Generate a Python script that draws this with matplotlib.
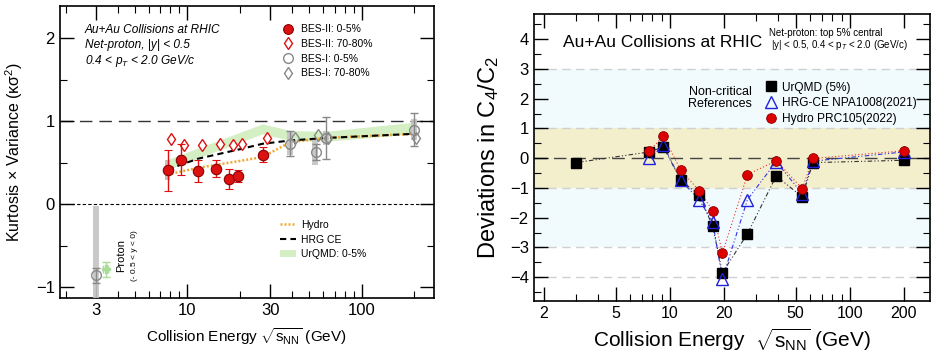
import numpy as np
import matplotlib
matplotlib.use('Agg')
import matplotlib.pyplot as plt
from matplotlib.lines import Line2D
from matplotlib.patches import Patch
from matplotlib.ticker import FixedLocator, NullFormatter

plt.rcParams['font.family'] = ['Liberation Sans', 'DejaVu Sans']
plt.rcParams['mathtext.fontset'] = 'custom'
plt.rcParams['mathtext.rm'] = 'Liberation Sans'
plt.rcParams['mathtext.it'] = 'Liberation Sans:italic'

# ---- left panel data ----
bes2_c_E = [7.7, 9.2, 11.5, 14.6, 17.3, 19.6, 27]
bes2_c_val = [0.41, 0.54, 0.40, 0.43, 0.31, 0.34, 0.60]
bes2_c_err = [0.25, 0.19, 0.13, 0.10, 0.12, 0.07, 0.09]
bes2_c_sys = [0.12, 0.05, 0.06, 0.04, 0.06, 0.03, 0.03]

bes2_p_E = [8.1, 9.6, 12.2, 15.4, 18.4, 20.7, 28.5]
bes2_p_val = [0.79, 0.72, 0.71, 0.73, 0.72, 0.73, 0.80]

bes1_c_E = [3.0, 39, 54.4, 62.4, 200]
bes1_c_val = [-0.855, 0.73, 0.63, 0.80, 0.90]
bes1_c_err = [0.09, 0.15, 0.10, 0.25, 0.20]
bes1_c_sys = [0.83, 0.14, 0.15, 0.08, 0.13]

bes1_p_E = [41.3, 56, 64, 206]
bes1_p_val = [0.80, 0.84, 0.80, 0.80]

urqmd_p_E = [3.4]
urqmd_p_val = [-0.78]
urqmd_p_err = [0.09]

urqmd_band_E = [7.7, 11.5, 19.6, 27, 39, 62.4, 200]
urqmd_band_mid = [0.48, 0.62, 0.80, 0.91, 0.83, 0.82, 0.92]
urqmd_band_w = [0.06, 0.06, 0.06, 0.06, 0.06, 0.06, 0.07]

hrg_E = [7.7, 11.5, 19.6, 27, 39, 62.4, 200]
hrg_val = [0.42, 0.55, 0.66, 0.73, 0.77, 0.80, 0.85]

hydro_E = [7.7, 11.5, 19.6, 27, 39, 62.4, 200]
hydro_val = [0.36, 0.44, 0.52, 0.57, 0.75, 0.80, 0.85]

# ---- right panel data ----
urqmd_E = [3.0, 7.7, 9.2, 11.5, 14.6, 17.3, 19.6, 27, 39, 54.4, 62.4, 200]
urqmd_dev = [-0.15, 0.21, 0.38, -0.74, -1.25, -2.29, -3.85, -2.54, -0.60, -1.30, -0.15, -0.07]

hrgce_E = [7.7, 9.2, 11.5, 14.6, 17.3, 19.6, 27, 39, 54.4, 62.4, 200]
hrgce_dev = [-0.01, 0.44, -0.74, -1.41, -2.14, -4.05, -1.39, -0.12, -1.19, -0.10, 0.21]

hydro2_E = [7.7, 9.2, 11.5, 14.6, 17.3, 19.6, 27, 39, 54.4, 62.4, 200]
hydro2_dev = [0.24, 0.74, -0.40, -1.10, -1.77, -3.19, -0.55, -0.09, -1.02, -0.01, 0.25]

red = '#dd1111'
gray = '#888888'

fig = plt.figure(figsize=(9.33, 3.57), dpi=100)

# ================= left panel =================
ax = fig.add_axes([0.064, 0.165, 0.401, 0.818])
ax.set_xscale('log')
ax.set_xlim(1.85, 260)
ax.set_ylim(-1.13, 2.39)

ax.axhline(1, color='#333333', lw=1.0, dashes=(9, 5), zorder=1)
ax.axhline(0, color='black', lw=0.8, dashes=(3, 2), zorder=1)

# UrQMD band
lo = np.array(urqmd_band_mid) - np.array(urqmd_band_w)
hi = np.array(urqmd_band_mid) + np.array(urqmd_band_w)
ax.fill_between(urqmd_band_E, lo, hi, color='#d4efc4', lw=0, zorder=2)

ax.plot(hydro_E, hydro_val, color='#f0a830', lw=1.8, linestyle=(0, (0.8, 0.8)), zorder=3)
ax.plot(hrg_E, hrg_val, color='black', lw=1.5, linestyle=(0, (3, 2)), zorder=3)

# systematic boxes
E = np.array(bes2_c_E)
ax.bar(E, 2 * np.array(bes2_c_sys), bottom=np.array(bes2_c_val) - np.array(bes2_c_sys),
       width=E * 0.07, color='#c9a8a8', alpha=0.8, zorder=4)
E = np.array(bes1_c_E)
ax.bar(E, 2 * np.array(bes1_c_sys), bottom=np.array(bes1_c_val) - np.array(bes1_c_sys),
       width=E * 0.08, color='#c4c4c4', alpha=0.9, zorder=4)

ax.errorbar(bes1_c_E, bes1_c_val, yerr=bes1_c_err, fmt='o', ms=7, mfc='none',
            mec=gray, ecolor=gray, capsize=3, elinewidth=1, mew=1, zorder=5)
ax.errorbar(urqmd_p_E, urqmd_p_val, yerr=urqmd_p_err, xerr=[0.12], fmt='P', ms=6,
            color='#a8dc98', ecolor='#a8dc98', capsize=3, elinewidth=1, zorder=5)
ax.plot(bes1_p_E, bes1_p_val, 'd', ms=6, mfc='none', mec=gray, mew=1, zorder=5)
ax.plot(bes2_p_E, bes2_p_val, 'd', ms=6.5, mfc='white', mec=red, mew=1, zorder=6)
ax.errorbar(bes2_c_E, bes2_c_val, yerr=bes2_c_err, fmt='o', ms=7.5, mfc=red,
            mec='#880000', ecolor=red, capsize=3, elinewidth=1, mew=0.8, zorder=7)

ax.text(0.067, 0.918, 'Au+Au Collisions at RHIC', transform=ax.transAxes,
        fontsize=8.6, style='italic', va='center')
ax.text(0.067, 0.866, 'Net-proton, |y| < 0.5', transform=ax.transAxes,
        fontsize=8.6, style='italic', va='center')
ax.text(0.067, 0.813, r'0.4 < $p_{T}$ < 2.0 GeV/c', transform=ax.transAxes,
        fontsize=8.6, style='italic', va='center')

ax.text(4.15, -0.62, 'Proton', rotation=90, fontsize=8, ha='center', va='center')
ax.text(5.0, -0.62, '(- 0.5 < y < 0)', rotation=90, fontsize=6, ha='center', va='center')

h1 = [Line2D([], [], marker='o', ls='none', ms=7, mfc=red, mec='#880000', mew=0.8),
      Line2D([], [], marker='d', ls='none', ms=6.5, mfc='white', mec=red, mew=1),
      Line2D([], [], marker='o', ls='none', ms=7, mfc='none', mec=gray, mew=1),
      Line2D([], [], marker='d', ls='none', ms=6, mfc='none', mec=gray, mew=1)]
leg1 = ax.legend(h1, ['BES-II: 0-5%', 'BES-II: 70-80%', 'BES-I: 0-5%', 'BES-I: 70-80%'],
                 loc='upper left', bbox_to_anchor=(0.575, 0.955), frameon=False,
                 fontsize=7.5, handlelength=1.5, handletextpad=0.5, labelspacing=0.45,
                 borderpad=0)
ax.add_artist(leg1)
h2 = [Line2D([], [], color='#f0a830', lw=1.8, ls=(0, (0.8, 0.8))),
      Line2D([], [], color='black', lw=1.5, ls=(0, (3, 2))),
      Patch(facecolor='#d4efc4', edgecolor='none')]
ax.legend(h2, ['Hydro', 'HRG CE', 'UrQMD: 0-5%'], loc='upper left',
          bbox_to_anchor=(0.575, 0.285), frameon=False, fontsize=7.5,
          handlelength=1.5, handletextpad=0.5, labelspacing=0.45, borderpad=0)

ax.xaxis.set_major_locator(FixedLocator([3, 10, 30, 100]))
ax.set_xticklabels(['3', '10', '30', '100'])
minors = [m * 10 ** d for d in range(0, 3) for m in range(2, 10)]
ax.xaxis.set_minor_locator(FixedLocator(minors))
ax.xaxis.set_minor_formatter(NullFormatter())
ax.set_yticks([-1, 0, 1, 2])
ax.set_yticklabels(['\u22121', '0', '1', '2'])
ax.set_yticks([-0.5, 0.5, 1.5], minor=True)
ax.tick_params(which='both', direction='in', top=True, right=True, labelsize=12)
ax.tick_params(which='major', length=10, width=1)
ax.tick_params(which='minor', length=5, width=0.8)
for s in ax.spines.values():
    s.set_linewidth(1.2)
ax.set_xlabel(r'Collision Energy $\sqrt{\mathrm{s_{NN}}}$ (GeV)', fontsize=11, labelpad=6)
ax.set_ylabel('Kurtosis \u00d7 Variance (\u03ba\u03c3$^2$)', fontsize=11.5, labelpad=8)

# ================= right panel =================
ax2 = fig.add_axes([0.572, 0.157, 0.425, 0.804])
ax2.set_xscale('log')
ax2.set_xlim(1.75, 280)
ax2.set_ylim(-4.8, 4.85)

ax2.axhspan(1, 3, color='#f1fafd', lw=0, zorder=0)
ax2.axhspan(-3, -1, color='#f1fafd', lw=0, zorder=0)
ax2.axhspan(-1, 1, color='#f3eecc', lw=0, zorder=0)
for yv in [-4, -3, -1, 1, 3]:
    ax2.axhline(yv, color='#d0d0d0', lw=1, dashes=(6, 4), zorder=1)
ax2.axhline(0, color='#444444', lw=1, dashes=(9, 5), zorder=1)

dd = (0, (4, 2, 1, 2, 1, 2))
ax2.plot(urqmd_E, urqmd_dev, color='#333333', lw=0.8, ls=dd, zorder=3)
ax2.plot(hrgce_E, hrgce_dev, color='#3333dd', lw=0.8, ls=dd, zorder=3)
ax2.plot(hydro2_E, hydro2_dev, color='#ee3333', lw=0.8, ls=(0, (1, 2)), zorder=3)
ax2.plot(urqmd_E, urqmd_dev, 's', ms=7, color='black', zorder=4)
ax2.plot(hrgce_E, hrgce_dev, '^', ms=8, mfc='none', mec='#2222dd', mew=1, zorder=5)
ax2.plot(hydro2_E, hydro2_dev, 'o', ms=7, mfc='#dd0000', mec='#880000', mew=0.6, zorder=6)

ax2.text(0.073, 0.902, 'Au+Au Collisions at RHIC', transform=ax2.transAxes,
         fontsize=12.5, va='center')
ax2.text(0.593, 0.934, 'Net-proton: top 5% central', transform=ax2.transAxes,
         fontsize=7, va='center')
ax2.text(0.598, 0.892, r'|y| < 0.5, 0.4 < p$_{T}$ < 2.0 (GeV/c)', transform=ax2.transAxes,
         fontsize=7, va='center')
ax2.text(0.47, 0.707, 'Non-critical\nReferences', transform=ax2.transAxes,
         fontsize=9, ha='center', va='center', linespacing=1.1)

h3 = [Line2D([], [], marker='s', ls='none', ms=7, color='black'),
      Line2D([], [], marker='^', ls='none', ms=8, mfc='none', mec='#2222dd', mew=1),
      Line2D([], [], marker='o', ls='none', ms=7, mfc='#dd0000', mec='#880000', mew=0.6)]
ax2.legend(h3, ['UrQMD (5%)', 'HRG-CE NPA1008(2021)', 'Hydro PRC105(2022)'],
           loc='upper left', bbox_to_anchor=(0.568, 0.785), frameon=False, fontsize=8.6,
           handlelength=1.1, handletextpad=0.35, labelspacing=0.3, borderpad=0)

ax2.xaxis.set_major_locator(FixedLocator([2, 5, 10, 20, 50, 100, 200]))
ax2.set_xticklabels(['2', '5', '10', '20', '50', '100', '200'])
ax2.xaxis.set_minor_locator(FixedLocator(minors))
ax2.xaxis.set_minor_formatter(NullFormatter())
ax2.set_yticks([-4, -3, -2, -1, 0, 1, 2, 3, 4])
ax2.set_yticks(np.arange(-4.5, 4.6, 1.0), minor=True)
ax2.tick_params(which='both', direction='in', top=True, right=True, labelsize=12)
ax2.tick_params(axis='x', labelsize=11.5)
ax2.tick_params(which='major', length=10, width=1)
ax2.tick_params(which='minor', length=5, width=0.8)
for s in ax2.spines.values():
    s.set_linewidth(1.2)
ax2.set_xlabel(r'Collision Energy  $\sqrt{\mathrm{s_{NN}}}$ (GeV)', fontsize=15, labelpad=4)
ax2.set_ylabel('Deviations in C$_4$/C$_2$', fontsize=17, labelpad=6)

fig.savefig('out.png', dpi=100)
